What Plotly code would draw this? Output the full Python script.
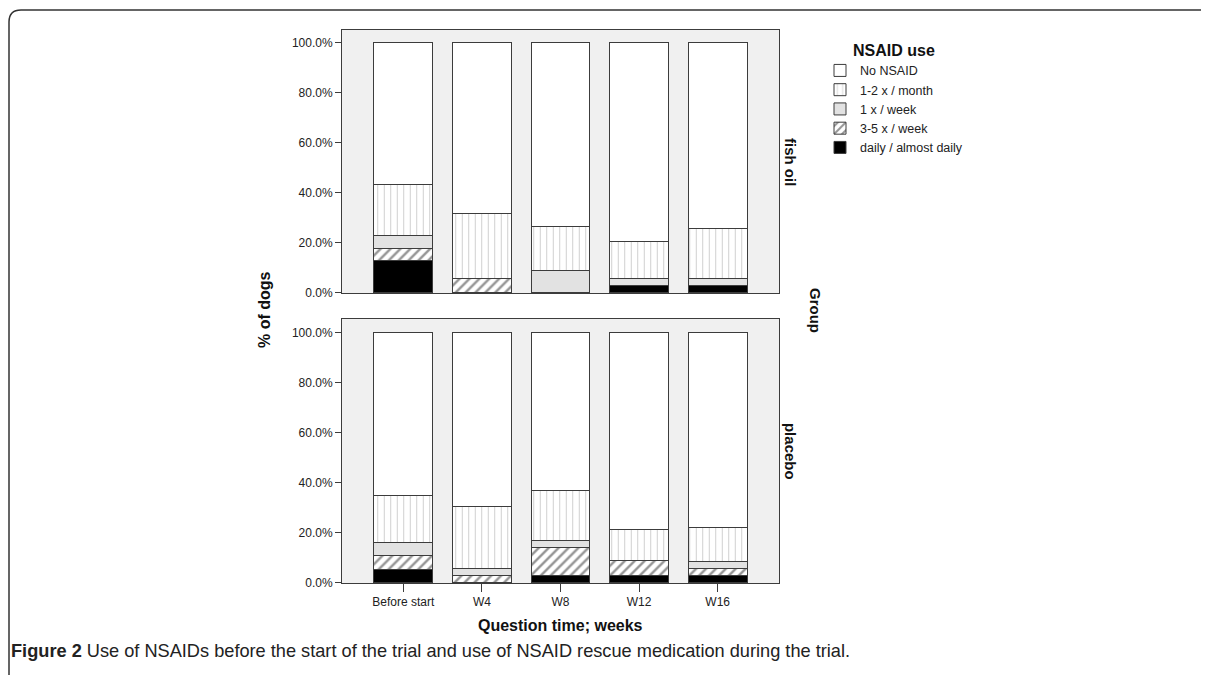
import plotly.graph_objects as go

# the page body has an 8px margin; the photographed page is slightly squeezed vertically,
# so vertical pixel positions are stretched by S to land where the reference has them
OFF = 8
S = 1.0105
W, H = 1209 - 2 * OFF, 667

categories = ["Before start", "W4", "W8", "W12", "W16"]
levels = ["daily / almost daily", "3-5 x / week", "1 x / week", "1-2 x / month", "No NSAID"]

# % of dogs, fish oil group
fish_daily = [12.8, 0.0, 0.0, 2.9, 2.9]
fish_35week = [5.1, 5.9, 0.0, 0.0, 0.0]
fish_1week = [5.1, 0.0, 8.8, 2.9, 2.9]
fish_12month = [20.5, 25.7, 17.7, 14.7, 19.9]
fish_none = [56.5, 68.4, 73.5, 79.5, 74.3]

# % of dogs, placebo group
plac_daily = [5.4, 0.0, 2.9, 3.0, 2.8]
plac_35week = [5.4, 2.8, 11.4, 6.1, 2.8]
plac_1week = [5.4, 2.8, 2.8, 0.0, 2.8]
plac_12month = [18.9, 25.0, 20.0, 12.1, 13.9]
plac_none = [64.9, 69.4, 62.9, 78.8, 77.7]

y_tickvals = [0, 20, 40, 60, 80, 100]
y_ticktext = ["0.0%", "20.0%", "40.0%", "60.0%", "80.0%", "100.0%"]
facet_labels = ["fish oil", "placebo"]

FONT = "Liberation Sans, Arial, sans-serif"
LINE = "#3c3c3c"

styles = {
    "daily / almost daily": dict(color="black"),
    "3-5 x / week": dict(color="white", pattern=dict(shape="/", fgcolor="#2a2a2a", bgcolor="white", size=7, solidity=0.35)),
    "1 x / week": dict(color="#e2e2e2"),
    "1-2 x / month": dict(color="white", pattern=dict(shape="|", fgcolor="#9a9a9a", bgcolor="white", size=6.5, solidity=0.15)),
    "No NSAID": dict(color="white"),
}

def px_x(p):
    return (p - OFF) / W

def px_y(p):
    return 1 - (p - OFF) * S / H

fig = go.Figure()

groups = [
    ("x", "y", [fish_daily, fish_35week, fish_1week, fish_12month, fish_none], True),
    ("x2", "y2", [plac_daily, plac_35week, plac_1week, plac_12month, plac_none], False),
]
for xa, ya, series, show in groups:
    for name, vals in zip(levels, series):
        st = styles[name]
        marker = dict(color=st["color"], line=dict(color=LINE, width=1))
        if "pattern" in st:
            marker["pattern"] = st["pattern"]
        fig.add_trace(go.Bar(
            x=categories, y=vals, name=name, legendgroup=name, showlegend=show,
            marker=marker, xaxis=xa, yaxis=ya, hoverinfo="skip",
        ))

xdom = [px_x(342), px_x(779)]
common_y = dict(
    tickmode="array", tickvals=y_tickvals, ticktext=y_ticktext, ticks="outside", ticklen=6,
    tickcolor=LINE, showline=True, linecolor=LINE, linewidth=1, mirror=True,
    showgrid=False, zeroline=False, tickfont=dict(family=FONT, size=12, color="#222"),
)
common_x = dict(
    domain=xdom, range=[-0.78, 4.78], showline=True, linecolor=LINE, linewidth=1,
    mirror=True, showgrid=False, zeroline=False,
    tickfont=dict(family=FONT, size=12, color="#222"),
)

fig.update_layout(
    width=W, height=H,
    margin=dict(l=0, r=0, t=0, b=0),
    paper_bgcolor="white", plot_bgcolor="#f0f0f0",
    barmode="stack", bargap=0.25,
    font=dict(family=FONT, size=12, color="#222"),
    xaxis=dict(anchor="y", showticklabels=False, ticks="", **common_x),
    xaxis2=dict(anchor="y2", ticks="outside", ticklen=8, tickcolor=LINE, **common_x),
    yaxis=dict(domain=[px_y(293), px_y(30)], range=[0, 105.2], anchor="x", **common_y),
    yaxis2=dict(domain=[px_y(583), px_y(319)], range=[0, 105.6], anchor="x2", **common_y),
    legend=dict(
        x=px_x(820), y=px_y(35), xanchor="left", yanchor="top",
        traceorder="reversed", bgcolor="rgba(0,0,0,0)", itemwidth=30,
        font=dict(family=FONT, size=12.5, color="#222"),
        title=dict(text="<b>NSAID use</b>", side="top center", font=dict(family=FONT, size=16, color="#111")),
        itemclick=False, itemdoubleclick=False, tracegroupgap=0,
    ),
)

ann = []
ann.append(dict(text="<b>% of dogs</b>", x=px_x(265), y=px_y(310), xref="paper", yref="paper",
                xanchor="center", yanchor="middle",
                textangle=-90, showarrow=False, font=dict(family=FONT, size=16, color="#111")))
ann.append(dict(text="<b>Group</b>", x=px_x(815), y=px_y(310), xref="paper", yref="paper",
                xanchor="center", yanchor="middle",
                textangle=90, showarrow=False, font=dict(family=FONT, size=15, color="#111")))
ann.append(dict(text="<b>" + facet_labels[0] + "</b>", x=px_x(790), y=px_y(162), xref="paper", yref="paper",
                xanchor="center", yanchor="middle",
                textangle=90, showarrow=False, font=dict(family=FONT, size=15, color="#111")))
ann.append(dict(text="<b>" + facet_labels[1] + "</b>", x=px_x(790), y=px_y(451), xref="paper", yref="paper",
                xanchor="center", yanchor="middle",
                textangle=90, showarrow=False, font=dict(family=FONT, size=15, color="#111")))
ann.append(dict(text="<b>Question time; weeks</b>", x=px_x(560), y=px_y(626), xref="paper", yref="paper",
                xanchor="center", yanchor="middle",
                showarrow=False, font=dict(family=FONT, size=16, color="#111")))
ann.append(dict(text="<b>Figure 2</b> Use of NSAIDs before the start of the trial and use of NSAID rescue medication during the trial.",
                x=px_x(9), y=px_y(651), xref="paper", yref="paper", xanchor="left", yanchor="middle",
                showarrow=False, font=dict(family=FONT, size=18.2, color="#222")))
fig.update_layout(annotations=ann)

# outer rounded frame
x0, yt, r = 9, 10, 12
path = (f"M {px_x(x0)},{px_y(740)} L {px_x(x0)},{px_y(yt + r)} "
        f"Q {px_x(x0)},{px_y(yt)} {px_x(x0 + r)},{px_y(yt)} L {px_x(1230)},{px_y(yt)}")
fig.add_shape(type="path", path=path, xref="paper", yref="paper",
              line=dict(color="#333", width=1.5))

fig.write_html("out.html")
